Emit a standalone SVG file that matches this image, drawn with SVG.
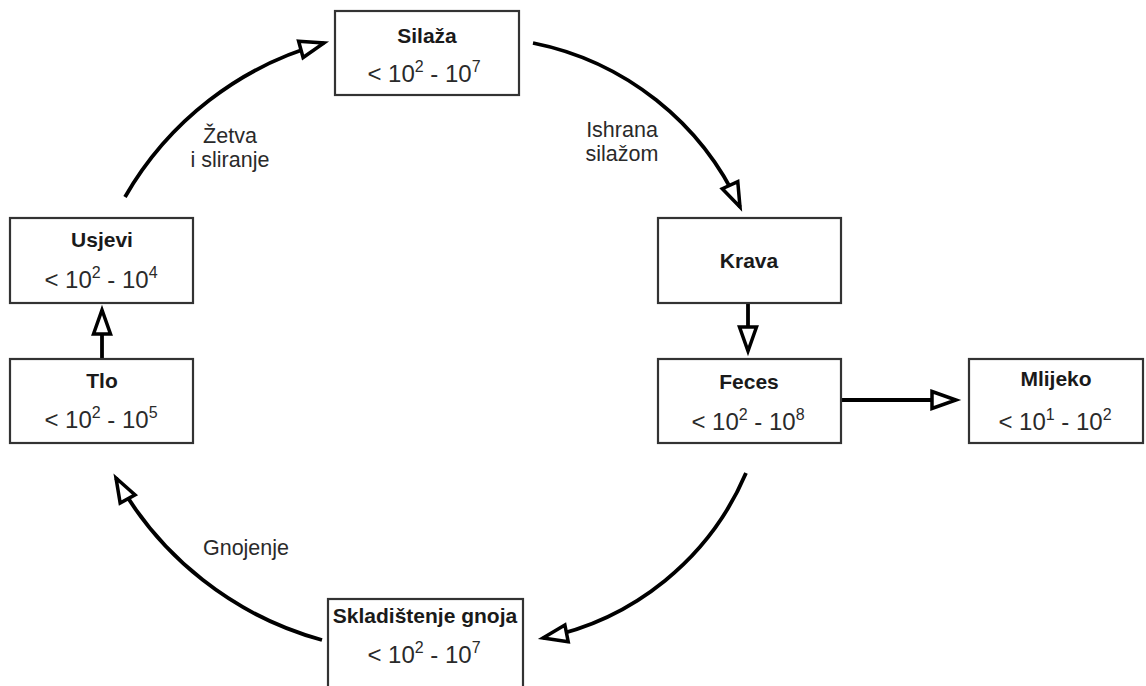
<svg xmlns="http://www.w3.org/2000/svg" width="1146" height="686" viewBox="0 0 1146 686">
<style>
.box{fill:#fff;stroke:#333;stroke-width:2.2}
.t{font-family:"Liberation Sans",Arial,sans-serif;font-weight:bold;font-size:21px;fill:#1a1a1a;text-anchor:middle}
.r{font-family:"Liberation Sans",Arial,sans-serif;font-size:24px;fill:#2a2a2a;text-anchor:middle}
.s{font-size:16px}
.lbl{font-family:"Liberation Sans",Arial,sans-serif;font-size:21.5px;fill:#2a2a2a;text-anchor:middle}
.c{fill:none;stroke:#000;stroke-width:3.8;marker-end:url(#ah)}
</style>
<defs>
<marker id="ah" markerUnits="userSpaceOnUse" viewBox="-30 -14 34 28" refX="0" refY="0" markerWidth="34" markerHeight="28" orient="auto" overflow="visible">
<path d="M-24,-8.5 L0,0 L-24,8.5 Z" fill="#fff" stroke="#000" stroke-width="3.5" stroke-linejoin="miter"/>
</marker>
</defs>
<g id="connectors">
<path class="c" d="M125,197 A330,330 0 0 1 324,43"/>
<path class="c" d="M533,43 A290,290 0 0 1 740,207"/>
<path class="c" d="M746,473 A280,280 0 0 1 543,638"/>
<path class="c" d="M322,640 A337,337 0 0 1 116,478"/>
<path class="c" d="M102,359 L102,310"/>
<path class="c" d="M748,303 L748,351"/>
<path class="c" d="M841,400 L956,400"/>
</g>
<g id="labels">
<text class="lbl" x="230" y="143">Žetva</text>
<text class="lbl" x="230" y="167">i sliranje</text>
<text class="lbl" x="622" y="137">Ishrana</text>
<text class="lbl" x="622" y="161">silažom</text>
<text class="lbl" x="246" y="555">Gnojenje</text>
</g>
<g id="silaza">
<rect class="box" x="335" y="11" width="184" height="84"/>
<text class="t" x="427" y="43">Silaža</text>
<text class="r" x="424" y="82">&lt; 10<tspan class="s" dy="-10">2</tspan><tspan dy="10"> - 10</tspan><tspan class="s" dy="-10">7</tspan></text>
</g>
<g id="usjevi">
<rect class="box" x="10" y="218" width="183" height="85"/>
<text class="t" x="102" y="247">Usjevi</text>
<text class="r" x="101" y="288">&lt; 10<tspan class="s" dy="-10">2</tspan><tspan dy="10"> - 10</tspan><tspan class="s" dy="-10">4</tspan></text>
</g>
<g id="tlo">
<rect class="box" x="10" y="359" width="183" height="84"/>
<text class="t" x="102" y="388">Tlo</text>
<text class="r" x="101" y="428">&lt; 10<tspan class="s" dy="-10">2</tspan><tspan dy="10"> - 10</tspan><tspan class="s" dy="-10">5</tspan></text>
</g>
<g id="krava">
<rect class="box" x="658" y="218" width="183" height="85"/>
<text class="t" x="749" y="268">Krava</text>
</g>
<g id="feces">
<rect class="box" x="658" y="359" width="183" height="84"/>
<text class="t" x="749" y="389">Feces</text>
<text class="r" x="748" y="430">&lt; 10<tspan class="s" dy="-10">2</tspan><tspan dy="10"> - 10</tspan><tspan class="s" dy="-10">8</tspan></text>
</g>
<g id="mlijeko">
<rect class="box" x="969" y="359" width="174" height="84"/>
<text class="t" x="1056" y="386">Mlijeko</text>
<text class="r" x="1055" y="430">&lt; 10<tspan class="s" dy="-10">1</tspan><tspan dy="10"> - 10</tspan><tspan class="s" dy="-10">2</tspan></text>
</g>
<g id="skladistenje">
<rect class="box" x="328" y="599" width="195" height="95"/>
<text class="t" x="425" y="623">Skladištenje gnoja</text>
<text class="r" x="424" y="663">&lt; 10<tspan class="s" dy="-10">2</tspan><tspan dy="10"> - 10</tspan><tspan class="s" dy="-10">7</tspan></text>
</g>
</svg>
